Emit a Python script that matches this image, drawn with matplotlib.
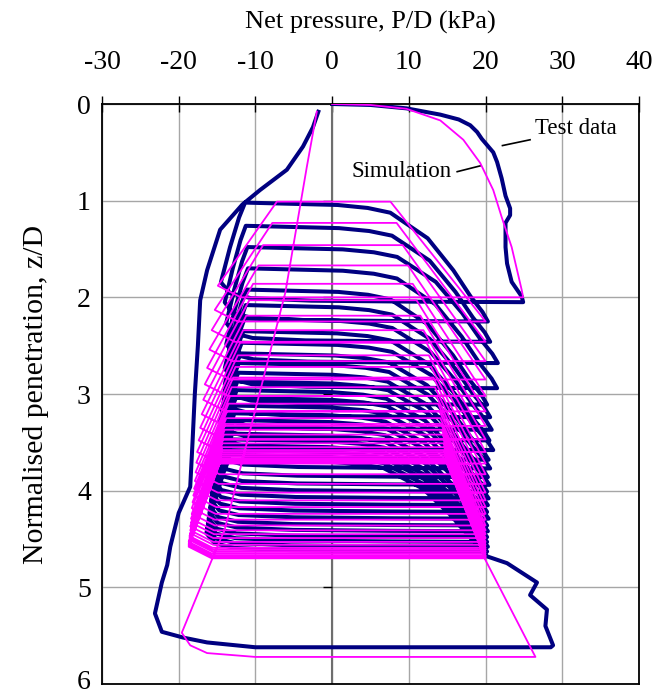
import matplotlib

matplotlib.use("Agg")
import matplotlib.pyplot as plt
from matplotlib.transforms import ScaledTranslation

# ---- data ---------------------------------------------------------------
X_TICKS = [-30, -20, -10, 0, 10, 20, 30, 40]
Y_TICKS = [0, 1, 2, 3, 4, 5, 6]

# test data: first monotonic penetration
TEST_INIT_P = [0, 5, 9.7, 14.1, 16.5, 18, 18.9, 19.5, 21, 21.5, 22.1, 22.6, 23.2, 23.2,
               22.6, 22.6, 22.8, 23.4, 24.7, 24.9]
TEST_INIT_Z = [0, 0.01, 0.045, 0.11, 0.16, 0.22, 0.29, 0.36, 0.5, 0.6, 0.77, 0.95, 1.08, 1.15,
               1.23, 1.48, 1.65, 1.84, 1.99, 2.05]

# test data: cycles (top of extraction, bottom of next penetration, extremes)
TEST_TOP = [1.02, 1.26, 1.48, 1.7, 1.92, 2.08, 2.22, 2.35, 2.47, 2.58, 2.68, 2.78, 2.87,
            2.96, 3.04, 3.12, 3.2, 3.27, 3.34, 3.41, 3.47, 3.53, 3.58, 3.63, 3.68]
TEST_BOT = [2.25, 2.46, 2.68, 2.94, 3.11, 3.24, 3.37, 3.48, 3.58, 3.68, 3.77, 3.86, 3.94,
            4.01, 4.08, 4.15, 4.22, 4.29, 4.36, 4.42, 4.48, 4.53, 4.58, 4.63, 4.68]
TEST_MIN = [-14.5, -14.0, -13.8, -13.8, -14.0, -14.0, -14.2, -14.4, -14.6, -14.8, -15.0,
            -15.1, -15.2, -15.3, -15.4, -15.5, -15.6, -15.7, -15.8, -15.9, -16.0, -16.1,
            -16.2, -16.3, -16.4]
TEST_MAX = [20.3, 20.6, 21.6, 21.5, 20.2, 20.6, 20.8, 20.5, 21.0, 20.4, 20.6, 20.3, 20.5,
            20.2, 20.4, 20.3, 20.2, 20.4, 20.2, 20.3, 20.2, 20.2, 20.3, 20.2, 20.2]

# shape of one test extraction / penetration leg (fractions of the leg)
EXT_G = [0, 0.35, 0.7, 0.9, 0.97, 1.0, 0.97, 0.94, 0.92]
EXT_F = [0, 0.005, 0.015, 0.04, 0.09, 0.2, 0.55, 0.85, 1.0]
PEN_H = [0, 0.381, 0.505, 0.598, 0.752, 0.858, 0.929, 0.978, 1.0]
PEN_F = [0, 0.02, 0.045, 0.085, 0.3, 0.57, 0.79, 0.92, 1.0]

# test data: final penetration and full extraction
TEST_FINAL_P = [22.8, 26.7, 25.8, 28, 27.8, 28.8, 28.5, 10, -10, -16.3, -19.4, -22.2, -23.1,
                -22.2, -21.5, -21.1, -20, -18.5, -18.2, -17.9, -17.5, -17.2, -16.3, -14.6,
                -11.7, -9.4, -5.9, -3.8, -2.5, -1.8]
TEST_FINAL_Z = [4.75, 4.95, 5.08, 5.23, 5.4, 5.6, 5.62, 5.62, 5.62, 5.57, 5.52, 5.46, 5.27,
                4.95, 4.77, 4.58, 4.23, 3.96, 3.5, 3.0, 2.5, 2.03, 1.72, 1.3,
                1.04, 0.89, 0.68, 0.44, 0.24, 0.08]

# simulation: first monotonic penetration
SIM_INIT_P = [0, 5, 9.7, 14.1, 17.1, 19.3, 21, 22.1, 23.4, 24.7, 24.9]
SIM_INIT_Z = [0, 0.01, 0.05, 0.17, 0.37, 0.61, 0.89, 1.17, 1.48, 1.92, 2.0]

# simulation cycles
SIM_TOP = [1.01, 1.23, 1.46, 1.67, 1.86, 2.03, 2.19, 2.34, 2.47, 2.6, 2.72, 2.83, 2.93, 3.02,
           3.1, 3.18, 3.25, 3.31, 3.37, 3.42, 3.47, 3.51, 3.55, 3.58, 3.61, 3.63, 3.65, 3.67,
           3.68, 3.69, 3.7, 3.71]
SIM_BOT = [2.25, 2.46, 2.66, 2.85, 3.02, 3.18, 3.33, 3.47, 3.6, 3.72, 3.83, 3.93, 4.02, 4.1,
           4.17, 4.24, 4.3, 4.36, 4.41, 4.45, 4.49, 4.53, 4.56, 4.59, 4.61, 4.63, 4.65, 4.67,
           4.68, 4.69, 4.7, 4.72]
SIM_PS = [7.6, 8.4, 9.2, 9.9, 10.5, 11.0, 11.5, 11.9, 12.3, 12.6, 12.9, 13.2, 13.4, 13.6,
          13.8, 14.0, 14.1, 14.2, 14.3, 14.4, 14.5, 14.5, 14.6, 14.6, 14.7, 14.7, 14.8, 14.8,
          14.8, 14.9, 14.9, 14.9]
SIM_AT = [-7.2, -7.8, -9.0, -9.6, -10.3, -10.8, -11.2, -11.6, -12.0, -12.3, -12.6, -12.9,
          -13.1, -13.3, -13.5, -13.7, -13.8, -13.9, -14.0, -14.1, -14.2, -14.3, -14.3, -14.4,
          -14.4, -14.5, -14.5, -14.5, -14.6, -14.6, -14.6, -14.6]
SIM_LC = [-14.9, -15.3, -15.7, -16.0, -16.3, -16.6, -16.8, -17.0, -17.2, -17.4, -17.6, -17.7,
          -17.8, -17.9, -18.0, -18.1, -18.2, -18.3, -18.3, -18.4, -18.4, -18.5, -18.5, -18.5,
          -18.6, -18.6, -18.6, -18.7, -18.7, -18.7, -18.7, -18.7]
SIM_RIGHT = 20.0
SIM_UNLOAD_RISE = 0.12

# simulation: final penetration and full extraction
SIM_FINAL_P = [26.5, -10, -16.3, -18.5, -19.6, -15.5, -14, -6.1, -3.3, -2.0]
SIM_FINAL_Z = [5.72, 5.72, 5.68, 5.6, 5.47, 4.68, 4.4, 1.95, 0.65, 0.08]


def test_path():
    xs, zs = list(TEST_INIT_P), list(TEST_INIT_Z)
    b, r = TEST_INIT_Z[-1], TEST_INIT_P[-1]
    for t, bot, lo, hi in zip(TEST_TOP, TEST_BOT, TEST_MIN, TEST_MAX):
        for g, f in zip(EXT_G[1:], EXT_F[1:]):
            xs.append(r + g * (lo - r))
            zs.append(b - f * (b - t))
        x0 = xs[-1]
        for h, f in zip(PEN_H[1:], PEN_F[1:]):
            xs.append(x0 + h * (hi - x0))
            zs.append(t + f * (bot - t))
        b, r = bot, hi
    return xs + TEST_FINAL_P, zs + TEST_FINAL_Z


def sim_path():
    xs, zs = list(SIM_INIT_P), list(SIM_INIT_Z)
    b = SIM_INIT_Z[-1]
    for t, bot, ps, at, lc in zip(SIM_TOP, SIM_BOT, SIM_PS, SIM_AT, SIM_LC):
        xs += [lc + 3, lc, at, ps, SIM_RIGHT]
        zs += [b, b - SIM_UNLOAD_RISE, t, t, bot]
        b = bot
    return xs + SIM_FINAL_P, zs + SIM_FINAL_Z


plt.rcParams["font.family"] = ["Liberation Serif", "DejaVu Serif"]
plt.rcParams["axes.unicode_minus"] = False

fig = plt.figure(figsize=(6.68, 6.94), dpi=100)
ax = fig.add_axes([102 / 668, 1 - 684 / 694, 537 / 668, 580 / 694])

ax.set_xlim(-30, 40)
ax.set_ylim(6, 0)
ax.set_xticks(X_TICKS)
ax.set_yticks(Y_TICKS)
ax.xaxis.tick_top()
ax.xaxis.set_label_position("top")
ax.tick_params(axis="x", direction="inout", length=12, width=1, pad=15, labelsize=20)
ax.tick_params(axis="y", length=0, pad=8, labelsize=20)
ax.grid(True, color="#a6a6a6", lw=1)
ax.set_axisbelow(True)
for s in ax.spines.values():
    s.set_color("black")
    s.set_linewidth(1.3)

# the last depth label sits on the bottom edge; lift it a little so it stays whole
last = ax.get_yticklabels()[-1]
last.set_transform(last.get_transform() + ScaledTranslation(0, 3 / 72, fig.dpi_scale_trans))

# vertical axis line at zero with its tick marks
ax.axvline(0, color="#6e6e6e", lw=1.5, zorder=1)
ax.hlines(Y_TICKS[1:-1], -1.2, 0, color="black", lw=1, zorder=1)

tx, tz = test_path()
ax.plot(tx, tz, color="#000080", lw=2.9, solid_joinstyle="round", zorder=2)
sx, sz = sim_path()
ax.plot(sx, sz, color="#ff00ff", lw=1.3, zorder=3)

ax.set_xlabel("Net pressure, P/D (kPa)", fontsize=19, labelpad=15)
ax.set_ylabel("Normalised penetration, z/D", fontsize=21.5, labelpad=20)

ax.text(26.5, 0.25, "Test data", fontsize=16.5, va="center", ha="left")
ax.plot([22.2, 25.8], [0.43, 0.37], color="black", lw=1.2)
ax.text(15.6, 0.70, "Simulation", fontsize=16.5, va="center", ha="right")
ax.plot([16.3, 19.3], [0.70, 0.64], color="black", lw=1.2)

fig.savefig("out.png", dpi=100)
